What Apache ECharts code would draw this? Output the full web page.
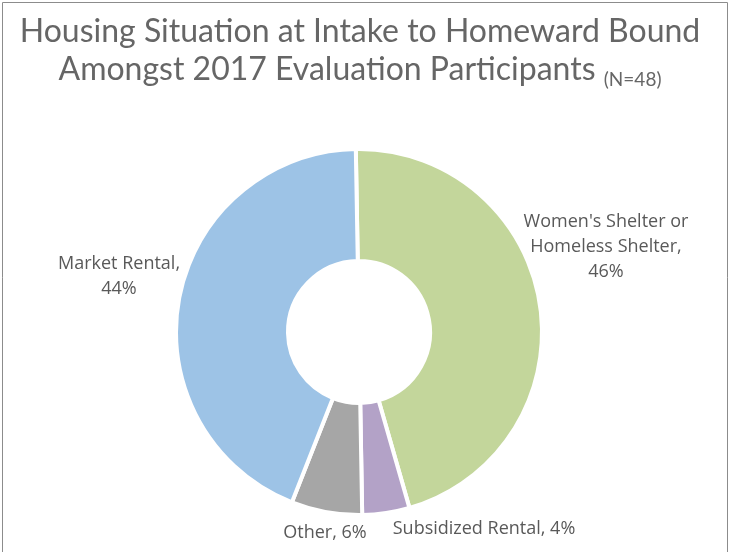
<!DOCTYPE html>
<html>
<head>
<meta charset="utf-8">
<script src="https://cdn.jsdelivr.net/npm/echarts@6/dist/echarts.min.js"></script>
<style>
  html, body { margin: 0; padding: 0; background: #fff; }
  #chart { width: 731px; height: 552px; }
</style>
</head>
<body>
<div id="chart"></div>
<script>
  // data (N=48)
  const categories = ['Women\'s Shelter or\nHomeless Shelter', 'Subsidized Rental', 'Other', 'Market Rental'];
  const counts = [22, 2, 3, 21];
  const percentLabels = ['46%', '4%', '6%', '44%'];
  const colors = ['#C3D69B', '#B3A2C7', '#A6A6A6', '#9DC3E6'];

  // where each label sits (centre of text block)
  const labelSpots = [[606, 247], [484, 529], [325, 533], [119, 276]];

  let myChart = echarts.init(document.getElementById('chart'));
  myChart.setOption({
    animation: false,
    graphic: [{
      type: 'rect',
      shape: { x: 2.5, y: 2.5, width: 725, height: 560 },
      style: { fill: 'none', stroke: '#8c8c8c', lineWidth: 1 }
    }],
    title: {
      text: 'Housing Situation at Intake to Homeward Bound\nAmongst 2017 Evaluation Participants {s|(N=48)}',
      left: 360,
      textAlign: 'center',
      top: 13,
      padding: 0,
      textStyle: {
        fontFamily: 'Lato',
        fontWeight: 'normal',
        fontSize: 32,
        lineHeight: 38,
        color: '#666666',
        rich: {
          s: { fontFamily: 'Lato', fontSize: 19, color: '#666666', verticalAlign: 'bottom' }
        }
      }
    },
    series: [{
      type: 'pie',
      center: [359, 332],
      radius: [71, 183],
      startAngle: 91,
      clockwise: true,
      itemStyle: { borderColor: '#fff', borderWidth: 4 },
      label: {
        show: true,
        formatter: p => categories[p.dataIndex].indexOf('\n') >= 0 || p.dataIndex === 3
          ? categories[p.dataIndex] + ',\n' + percentLabels[p.dataIndex]
          : categories[p.dataIndex] + ', ' + percentLabels[p.dataIndex],
        fontFamily: 'Open Sans',
        fontSize: 18,
        lineHeight: 25,
        color: '#595959',
        align: 'center',
        overflow: 'none',
        width: 300
      },
      labelLine: { show: false },
      labelLayout: p => ({
        x: labelSpots[p.dataIndex][0],
        y: labelSpots[p.dataIndex][1],
        align: 'center',
        verticalAlign: 'middle'
      }),
      data: categories.map((c, i) => ({
        name: c,
        value: counts[i],
        itemStyle: { color: colors[i] }
      }))
    }]
  });
</script>
</body>
</html>
